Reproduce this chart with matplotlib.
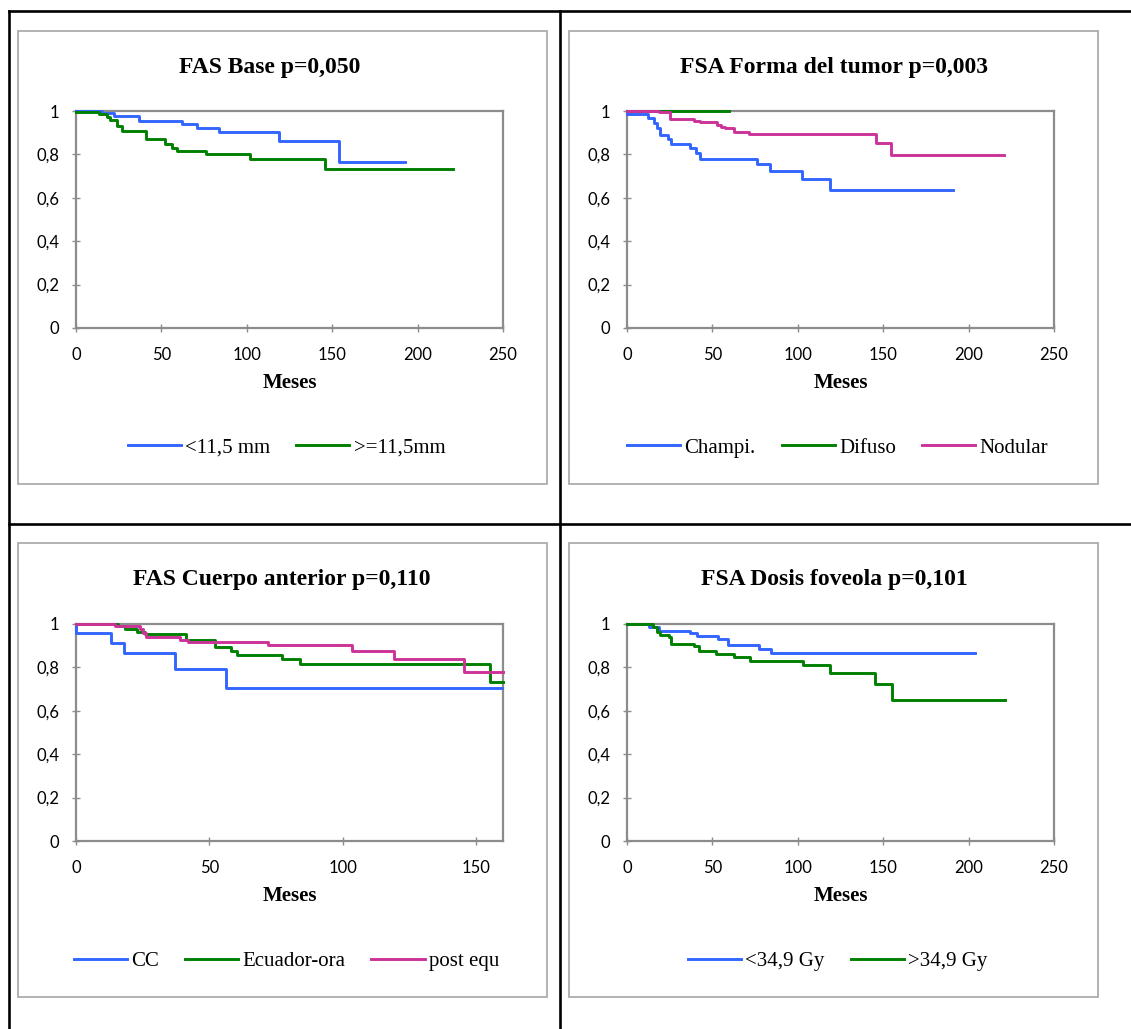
import matplotlib
matplotlib.use("Agg")
import matplotlib.pyplot as plt
from matplotlib.lines import Line2D
from matplotlib.patches import Rectangle

# ---- datos (meses, supervivencia) ----
# FAS Base
base_small_t = [0, 15, 22, 37, 62, 71, 84, 119, 154, 192.5]
base_small_s = [1, 0.989, 0.977, 0.952, 0.939, 0.923, 0.903, 0.860, 0.765, 0.765]
base_big_t = [0, 13.6, 18, 20, 24, 27, 41, 52, 56, 59, 76, 102, 146, 220.7]
base_big_s = [0.995, 0.986, 0.972, 0.958, 0.93, 0.908, 0.871, 0.846, 0.831, 0.817,
              0.800, 0.779, 0.733, 0.733]

# FSA Forma del tumor
champi_t = [0, 12.1, 15.6, 17.5, 19.5, 23.8, 25.7, 36.6, 40.5, 42.9, 76.4, 83.8,
            102.5, 118.9, 190.6]
champi_s = [0.986, 0.968, 0.947, 0.92, 0.891, 0.870, 0.850, 0.828, 0.805, 0.780,
            0.754, 0.724, 0.688, 0.636, 0.636]
difuso_t = [0, 60]
difuso_s = [1, 1]
nodular_t = [0, 18.5, 25, 39, 43, 52.6, 55, 57.5, 62.7, 71.7, 145.6, 154.5, 220.6]
nodular_s = [1, 0.995, 0.965, 0.955, 0.949, 0.935, 0.928, 0.92, 0.905, 0.893,
             0.854, 0.796, 0.796]

# FAS Cuerpo anterior
cc_t = [0, 0, 13, 18, 37.1, 56.1, 159.6]
cc_s = [1, 0.957, 0.914, 0.865, 0.791, 0.703, 0.703]
ecuador_t = [0, 15.9, 18.4, 22.8, 25.9, 41.3, 52.1, 58, 60.5, 77.1, 84, 155.3, 160]
ecuador_s = [1, 0.991, 0.978, 0.963, 0.952, 0.928, 0.892, 0.874, 0.857, 0.837,
             0.815, 0.732, 0.732]
post_t = [0, 14.6, 24, 25, 26.3, 39, 42.1, 72.1, 103.4, 119.3, 145.3, 160]
post_s = [1, 0.99, 0.975, 0.96, 0.938, 0.926, 0.917, 0.902, 0.874, 0.84, 0.778, 0.778]

# FSA Dosis foveola
dlow_t = [0, 12.7, 18.5, 37, 40.9, 53, 59.4, 77, 84.2, 203.6]
dlow_s = [1, 0.988, 0.969, 0.957, 0.946, 0.932, 0.905, 0.885, 0.865, 0.865]
dhigh_t = [0, 15.2, 17.5, 19.1, 24.4, 25.7, 39, 41.9, 52.2, 62.4, 72.1, 102.9,
           118.9, 145.2, 155.3, 221.6]
dhigh_s = [1, 0.985, 0.965, 0.95, 0.938, 0.908, 0.898, 0.874, 0.863, 0.848, 0.831,
           0.809, 0.774, 0.722, 0.649, 0.649]

titles = ["FAS Base p=0,050", "FSA Forma del tumor p=0,003",
          "FAS Cuerpo anterior p=0,110", "FSA Dosis foveola p=0,101"]
y_ticks = [0, 0.2, 0.4, 0.6, 0.8, 1]
y_labels = ["0", "0,2", "0,4", "0,6", "0,8", "1"]

BLUE, GREEN, MAG = "#3366FF", "#008000", "#CC3399"
SERIF = "Liberation Serif"
GRAY = "#8c8c8c"

W, H = 1131, 1029
fig = plt.figure(figsize=(W / 100, H / 100), dpi=100)


def fx(x):
    return x / W


def fy(y):
    return 1 - y / H


# tabla exterior
for xs, ys in [([9, W], [11, 11]), ([9, W], [524, 524]),
               ([9, 9], [11, H]), ([560, 560], [11, H])]:
    fig.add_artist(Line2D([fx(v) for v in xs], [fy(v) for v in ys],
                          color="black", lw=1.9))

panels = [
    # caja (l, t, r, b), area de trazado (l, t, r, b), xmax, xticks, series, titulo_x
    ((18, 31, 547, 484), (76, 111, 503, 328), 250, [0, 50, 100, 150, 200, 250],
     [(base_small_t, base_small_s, BLUE, "<11,5 mm"),
      (base_big_t, base_big_s, GREEN, ">=11,5mm")], 270),
    ((569, 31, 1098, 484), (627, 111, 1054, 328), 250, [0, 50, 100, 150, 200, 250],
     [(champi_t, champi_s, BLUE, "Champi."),
      (difuso_t, difuso_s, GREEN, "Difuso"),
      (nodular_t, nodular_s, MAG, "Nodular")], 834),
    ((18, 543, 547, 997), (76, 624, 503, 841), 160, [0, 50, 100, 150],
     [(cc_t, cc_s, BLUE, "CC"),
      (ecuador_t, ecuador_s, GREEN, "Ecuador-ora"),
      (post_t, post_s, MAG, "post equ")], 282),
    ((569, 543, 1098, 997), (627, 624, 1054, 841), 250, [0, 50, 100, 150, 200, 250],
     [(dlow_t, dlow_s, BLUE, "<34,9 Gy"),
      (dhigh_t, dhigh_s, GREEN, ">34,9 Gy")], 834),
]

for (box, area, xmax, xticks, series, tx), title in zip(panels, titles):
    bl, bt, br, bb = box
    fig.add_artist(Rectangle((fx(bl), fy(bb)), (br - bl) / W, (bb - bt) / H,
                             transform=fig.transFigure, fill=False,
                             ec="#a6a6a6", lw=1.2))
    l, t, r, b = area
    ax = fig.add_axes([fx(l), fy(b), (r - l) / W, (b - t) / H])
    for ts, ss, col, lab in series:
        ax.step(ts, ss, where="post", color=col, lw=2.1, label=lab,
                clip_on=False, zorder=3)
    ax.set_xlim(0, xmax)
    ax.set_ylim(0, 1)
    ax.set_xticks(xticks)
    ax.set_yticks(y_ticks)
    ax.set_yticklabels(y_labels)
    for sp in ax.spines.values():
        sp.set_color(GRAY)
        sp.set_linewidth(1.6)
    ax.tick_params(direction="inout", length=6, width=1, color=GRAY,
                   labelsize=12)
    ax.tick_params(axis="x", pad=10.5)
    ax.tick_params(axis="y", pad=9)
    for lbl in ax.get_xticklabels() + ax.get_yticklabels():
        lbl.set_family("Lato")

    fig.text(fx(tx), fy(bt + 37), title, ha="center", va="center",
             fontsize=17, fontweight="bold", family=SERIF)
    fig.text(fx((l + r) / 2), fy(b + 55), "Meses", ha="center", va="center",
             fontsize=15, fontweight="bold", family=SERIF)
    ax.legend(loc="center", bbox_to_anchor=(fx((bl + br) / 2 + 4), fy(b + 120)),
              bbox_transform=fig.transFigure, ncol=len(series), frameon=False,
              prop={"family": SERIF, "size": 15}, handlelength=2.55,
              handletextpad=0.2, columnspacing=1.25, borderpad=0)

fig.savefig("out.png", dpi=100)
